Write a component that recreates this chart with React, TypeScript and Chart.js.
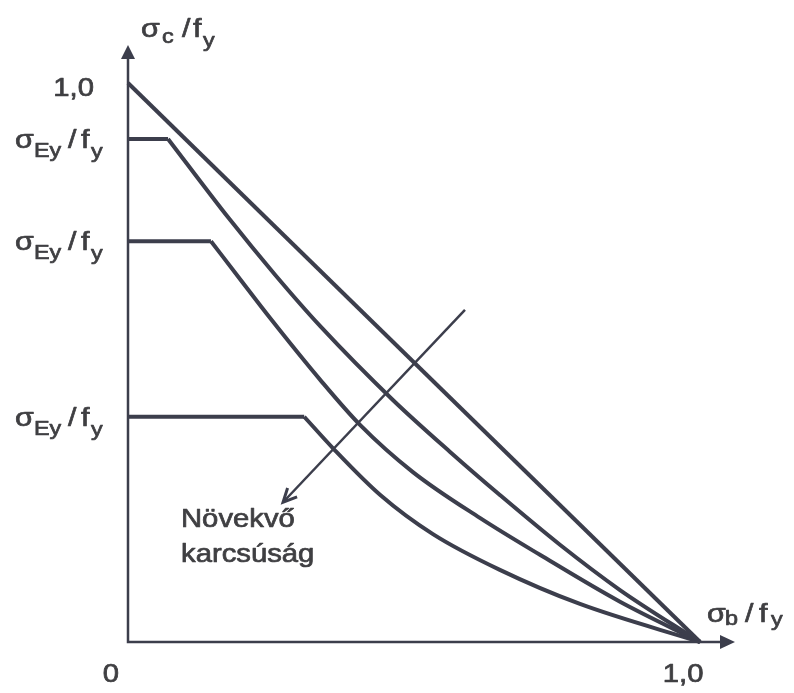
import { useEffect, useRef } from "react";
import { Chart, registerables } from "chart.js";

Chart.register(...registerables);

const INK = "#3c3e4c";
const TEXT = "#3f3f42";
const FONT = "'Liberation Sans', Arial, Helvetica, sans-serif";

// σb/fy horizontally, σc/fy vertically; both axes run a little past 1,0 for the arrows
const xRange = [0, 1.061];
const yRange = [0, 1.068];

const xTickValues = [0, 1];
const xTickLabels = ["0", "1,0"];
const yTopValue = 1;
const yTopLabel = "1,0";

// straight interaction line from (0; 1,0) to (1,0; 0)
const linearX = [0, 1];
const linearY = [1, 0];

// plateau levels σEy/fy and where each plateau ends
const plateauLevels = [0.9, 0.717, 0.403];
const plateauEnds = [0.07, 0.145, 0.308];

// descending branches, from the end of each plateau down to (1,0; 0)
const stockyX = [0.07, 0.177, 0.257, 0.336, 0.463, 0.563, 0.65, 0.755, 0.86, 1.0];
const stockyY = [0.9, 0.757, 0.657, 0.565, 0.433, 0.34, 0.263, 0.174, 0.093, 0];
const mediumX = [0.145, 0.196, 0.248, 0.336, 0.406, 0.498, 0.615, 0.72, 0.86, 1.0];
const mediumY = [0.717, 0.649, 0.58, 0.469, 0.388, 0.304, 0.222, 0.156, 0.072, 0];
const slenderX = [0.308, 0.358, 0.441, 0.533, 0.65, 0.79, 1.0];
const slenderY = [0.403, 0.347, 0.263, 0.193, 0.129, 0.068, 0];

const branchesX = [stockyX, mediumX, slenderX];
const branchesY = [stockyY, mediumY, slenderY];

// "increasing slenderness" arrow, in axis units
const trendFrom = [0.589, 0.594];
const trendTo = [0.271, 0.25];

const pairs = (xs: number[], ys: number[]) => xs.map((x, i) => ({ x, y: ys[i] }));

const STRETCH = 1.17;

function drawText(ctx: CanvasRenderingContext2D, s: string, x: number, y: number, size: number, align: CanvasTextAlign = "left") {
  ctx.save();
  ctx.font = `${size}px ${FONT}`;
  ctx.textAlign = align;
  ctx.textBaseline = "alphabetic";
  ctx.translate(x, y);
  ctx.scale(STRETCH, 1);
  ctx.lineWidth = 0.7;
  ctx.lineJoin = "round";
  ctx.strokeStyle = ctx.fillStyle as string;
  ctx.fillText(s, 0, 0);
  ctx.strokeText(s, 0, 0);
  ctx.restore();
}

// σ_sub / f_y, laid out piece by piece
function drawRatio(
  ctx: CanvasRenderingContext2D,
  x: number,
  base: number,
  sub: string,
  offs: number[],
  subDrop: number,
  yDrop: number,
  main = 26,
  small = 20
) {
  drawText(ctx, "σ", x + offs[0], base, main);
  drawText(ctx, sub, x + offs[1], base + subDrop, small);
  drawText(ctx, "/", x + offs[2], base, main);
  drawText(ctx, "f", x + offs[3], base, main);
  drawText(ctx, "y", x + offs[4], base + yDrop, small);
}

const decorations = {
  id: "decorations",
  afterDatasetsDraw(chart: any) {
    const ctx: CanvasRenderingContext2D = chart.ctx;
    const xs = chart.scales.x;
    const ys = chart.scales.y;
    const x0 = xs.getPixelForValue(0);
    const y0 = ys.getPixelForValue(0);
    const xEnd = xs.getPixelForValue(xRange[1]);
    const yEnd = ys.getPixelForValue(yRange[1]);

    ctx.save();
    ctx.strokeStyle = INK;
    ctx.fillStyle = INK;
    ctx.lineCap = "butt";
    ctx.lineWidth = 2.5;

    // axes
    ctx.beginPath();
    ctx.moveTo(x0, yEnd + 12);
    ctx.lineTo(x0, y0);
    ctx.lineTo(xEnd - 12, y0);
    ctx.stroke();

    // arrowheads
    ctx.beginPath();
    ctx.moveTo(x0, yEnd);
    ctx.lineTo(x0 - 7, yEnd + 14);
    ctx.lineTo(x0 + 7, yEnd + 14);
    ctx.closePath();
    ctx.fill();
    ctx.beginPath();
    ctx.moveTo(xEnd, y0);
    ctx.lineTo(xEnd - 15, y0 - 7);
    ctx.lineTo(xEnd - 15, y0 + 7);
    ctx.closePath();
    ctx.fill();

    // slenderness arrow
    const ax = xs.getPixelForValue(trendFrom[0]);
    const ay = ys.getPixelForValue(trendFrom[1]);
    const bx = xs.getPixelForValue(trendTo[0]);
    const by = ys.getPixelForValue(trendTo[1]);
    ctx.lineWidth = 2.5;
    ctx.beginPath();
    ctx.moveTo(ax, ay);
    ctx.lineTo(bx, by);
    ctx.stroke();
    const ang = Math.atan2(by - ay, bx - ax);
    const head = 15;
    ctx.lineWidth = 3;
    ctx.lineJoin = "miter";
    ctx.beginPath();
    ctx.moveTo(bx - head * Math.cos(ang - 0.45), by - head * Math.sin(ang - 0.45));
    ctx.lineTo(bx, by);
    ctx.lineTo(bx - head * Math.cos(ang + 0.45), by - head * Math.sin(ang + 0.45));
    ctx.stroke();
    ctx.restore();

    ctx.save();
    ctx.fillStyle = TEXT;

    // tick labels
    xTickValues.forEach((v, i) => {
      drawText(ctx, xTickLabels[i], xs.getPixelForValue(v) - 17, y0 + 40, 25, "center");
    });
    drawText(ctx, yTopLabel, x0 - 34, ys.getPixelForValue(yTopValue) + 13, 25, "right");

    // σEy / fy at each plateau
    plateauLevels.forEach((lvl) => {
      drawRatio(ctx, 15, ys.getPixelForValue(lvl) + 9, "Ey", [0, 19, 53, 66, 76], 9, 10);
    });

    // axis titles
    drawRatio(ctx, x0 + 13, yEnd - 8, "c", [0, 21, 41, 52, 62], 6, 10);
    drawRatio(ctx, xEnd - 28, y0 - 20, "b", [0, 18, 38, 52, 64], 3, 4);

    // annotation
    drawText(ctx, "Növekvő", 181, 527, 25);
    drawText(ctx, "karcsúság", 181, 562, 25);
    ctx.restore();
  },
};

export default function App() {
  const ref = useRef<HTMLCanvasElement | null>(null);

  useEffect(() => {
    if (!ref.current) return;
    const line = {
      borderColor: INK,
      borderWidth: 4,
      pointRadius: 0,
      showLine: true,
      fill: false,
      clip: false as const,
    };
    const datasets: any[] = [
      { ...line, label: "1,0", data: pairs(linearX, linearY), tension: 0 },
    ];
    plateauLevels.forEach((lvl, i) => {
      datasets.push({
        ...line,
        label: `plateau ${i + 1}`,
        data: [
          { x: 0, y: lvl },
          { x: plateauEnds[i], y: lvl },
        ],
        tension: 0,
      });
      datasets.push({
        ...line,
        label: `branch ${i + 1}`,
        data: pairs(branchesX[i], branchesY[i]),
        cubicInterpolationMode: "monotone",
      });
    });

    const chart = new Chart(ref.current, {
      type: "scatter",
      data: { datasets },
      options: {
        animation: false,
        responsive: true,
        maintainAspectRatio: false,
        layout: { padding: { left: 128, right: 59, top: 45, bottom: 51 } },
        plugins: { legend: { display: false }, tooltip: { enabled: false } },
        scales: {
          x: { type: "linear", min: xRange[0], max: xRange[1], display: false },
          y: { type: "linear", min: yRange[0], max: yRange[1], display: false },
        },
      },
      plugins: [decorations],
    });
    return () => chart.destroy();
  }, []);

  return (
    <div style={{ position: "absolute", left: 0, top: 0, width: 794, height: 693, background: "#fff" }}>
      <canvas ref={ref} />
    </div>
  );
}
